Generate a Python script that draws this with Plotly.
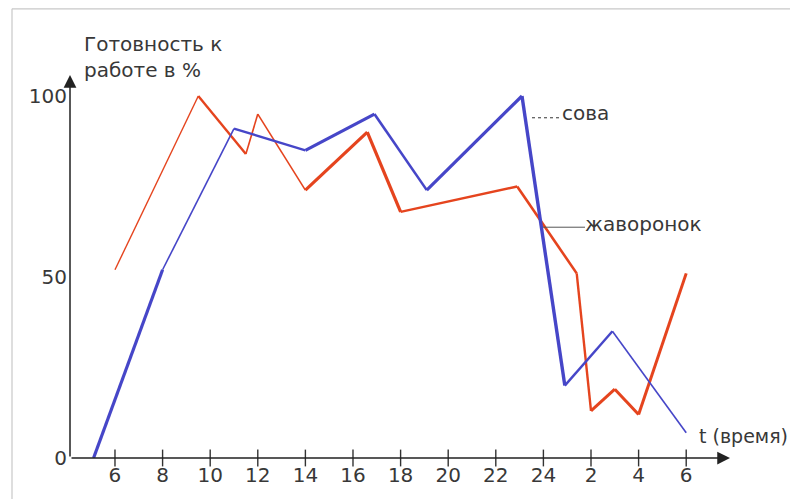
import plotly.graph_objects as go

# ---- data ----
sova_t = [5.1, 8.0, 11.0, 14.0, 16.9, 19.1, 23.1, 24.9, 26.9, 30.0]
sova_v = [0, 52, 91, 85, 95, 74, 100, 20, 35, 7]

zhav_t = [6.0, 9.5, 11.5, 12.0, 14.0, 16.6, 18.0, 22.9, 25.4, 26.0, 27.0, 28.0, 30.0]
zhav_v = [52, 100, 84, 95, 74, 90, 68, 75, 51, 13, 19, 12, 51]

tick_vals = [6, 8, 10, 12, 14, 16, 18, 20, 22, 24, 26, 28, 30]
tick_text = ["6", "8", "10", "12", "14", "16", "18", "20", "22", "24", "2", "4", "6"]
y_ticks = [0, 50, 100]

# ---- style ----
BLUE = "#4646c8"
RED = "#e5441e"
TXT = "#383838"
FONT = "DejaVu Sans"
FS = 20
sova_w = [3.2, 1.6, 2.4, 3.2, 2.6, 3.2, 3.4, 2.4, 1.6]
zhav_w = [1.4, 2.4, 1.6, 1.6, 3.2, 3.2, 2.4, 2.6, 2.4, 3.0, 3.0, 3.0]

X0, X1 = 4.11, 31.84
Y0, Y1 = 0, 105.8

# page offset of the figure (body margin)
OFF = 8
PL, PR, PT, PB = 70, 730, 75, 460  # plot area in page pixels


def px(x):
    return (x - PL) / (PR - PL)


def py(y):
    return (PB - y) / (PB - PT)


fig = go.Figure()


def add_segments(ts, vs, widths, color):
    for i in range(len(ts) - 1):
        fig.add_trace(go.Scatter(
            x=ts[i:i + 2], y=vs[i:i + 2], mode="lines",
            line=dict(color=color, width=widths[i]),
            showlegend=False, hoverinfo="skip", cliponaxis=False))


add_segments(zhav_t, zhav_v, zhav_w, RED)
add_segments(sova_t, sova_v, sova_w, BLUE)

# tick marks crossing the x axis
fig.add_trace(go.Scatter(
    x=tick_vals, y=[0] * len(tick_vals), mode="markers",
    marker=dict(symbol="line-ns", size=12, line=dict(color="#333", width=1.4)),
    showlegend=False, hoverinfo="skip", cliponaxis=False))

tf = dict(family=FONT, size=FS, color=TXT)
annotations = [
    dict(x=X1, y=0, ax=X0, ay=0, xref="x", yref="y", axref="x", ayref="y",
         text="", showarrow=True, arrowhead=2, arrowsize=1.7, arrowwidth=1.5, arrowcolor="#222"),
    dict(x=X0, y=Y1, ax=X0, ay=0, xref="x", yref="y", axref="x", ayref="y",
         text="", showarrow=True, arrowhead=2, arrowsize=1.7, arrowwidth=1.5, arrowcolor="#222"),
    dict(x=px(82), y=py(57), xref="paper", yref="paper", xanchor="left", yanchor="middle",
         text="Готовность к<br>работе в %", showarrow=False, align="left", font=tf),
    dict(x=px(697), y=py(438), xref="paper", yref="paper", xanchor="left", yanchor="middle",
         text="t (время)", showarrow=False, font=dict(family=FONT, size=19, color=TXT)),
    dict(x=px(560), y=py(113), xref="paper", yref="paper", xanchor="left", yanchor="middle",
         text="сова", showarrow=False, font=tf),
    dict(x=px(583), y=py(225), xref="paper", yref="paper", xanchor="left", yanchor="middle",
         text="жаворонок", showarrow=False, font=tf),
]

shapes = [
    dict(type="line", xref="paper", yref="paper", x0=px(532), x1=px(559), y0=py(118), y1=py(118),
         line=dict(color="#333", width=1, dash="dot")),
    dict(type="line", xref="paper", yref="paper", x0=px(543), x1=px(585), y0=py(228), y1=py(228),
         line=dict(color="#555", width=1)),
    # frame
    dict(type="line", xref="paper", yref="paper", x0=px(12), x1=px(800), y0=py(8.5), y1=py(8.5),
         line=dict(color="#c8c8c8", width=1.2)),
    dict(type="line", xref="paper", yref="paper", x0=px(12), x1=px(12), y0=py(8.5), y1=py(520),
         line=dict(color="#c8c8c8", width=1.2)),
]

fig.update_layout(
    width=798 - OFF, height=499 - OFF,
    margin=dict(l=PL - OFF, r=798 - PR, t=PT - OFF, b=499 - PB),
    paper_bgcolor="white", plot_bgcolor="white",
    xaxis=dict(range=[X0, X1], tickvals=tick_vals, ticktext=tick_text,
               showgrid=False, zeroline=False, showline=False, ticks="",
               tickfont=tf, ticklabelstandoff=3),
    yaxis=dict(range=[Y0, Y1], tickvals=y_ticks, showgrid=False, zeroline=False,
               showline=False, ticks="", tickfont=tf, ticklabelstandoff=2),
    annotations=annotations, shapes=shapes,
)

fig.write_html("out.html")
